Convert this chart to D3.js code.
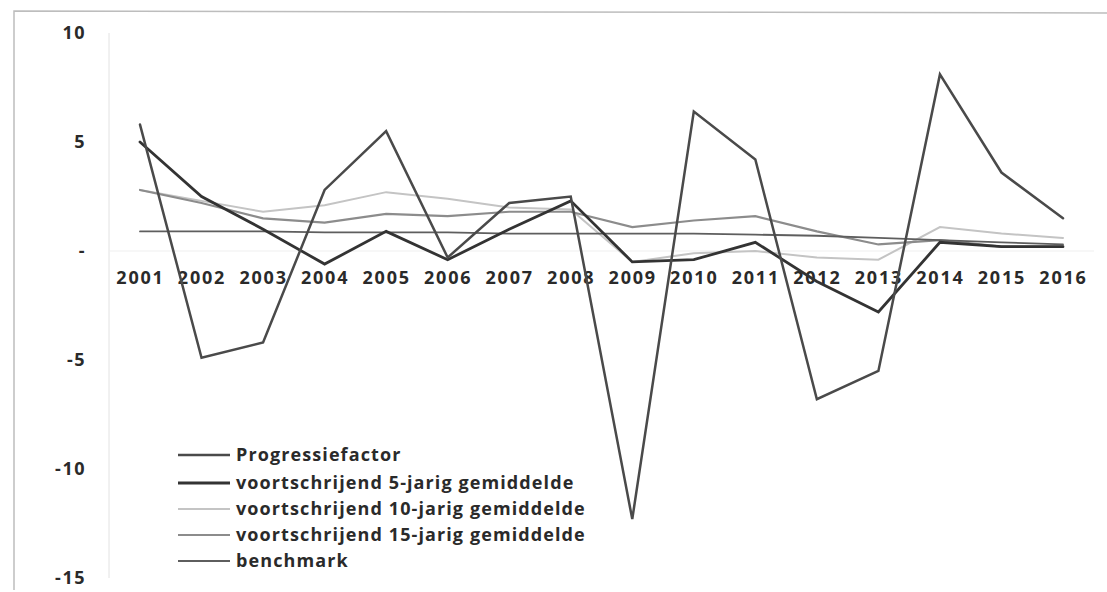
<!DOCTYPE html>
<html>
<head>
<meta charset="utf-8">
<script src="https://cdn.jsdelivr.net/npm/d3@7"></script>
<style>
  html, body { margin: 0; padding: 0; background: #fff; }
  svg { display: block; }
  text { font-family: "Open Sans", "DejaVu Sans", sans-serif; }
</style>
</head>
<body>
<svg id="chart" width="1107" height="592"></svg>
<script>
const years = ["2001","2002","2003","2004","2005","2006","2007","2008","2009","2010","2011","2012","2013","2014","2015","2016"];
const progressiefactor = [5.8, -4.9, -4.2, 2.8, 5.5, -0.3, 2.2, 2.5, -12.3, 6.4, 4.2, -6.8, -5.5, 8.1, 3.6, 1.5];
const gem5 = [5.0, 2.5, 1.0, -0.6, 0.9, -0.4, 1.0, 2.3, -0.5, -0.4, 0.4, -1.4, -2.8, 0.4, 0.2, 0.2];
const gem10 = [2.8, 2.3, 1.8, 2.1, 2.7, 2.4, 2.0, 1.9, -0.5, -0.1, 0.0, -0.3, -0.4, 1.1, 0.8, 0.6];
const gem15 = [2.8, 2.2, 1.5, 1.3, 1.7, 1.6, 1.8, 1.8, 1.1, 1.4, 1.6, 0.9, 0.3, 0.5, 0.2, 0.2];
const benchmark = [0.9, 0.9, 0.9, 0.85, 0.85, 0.85, 0.8, 0.8, 0.8, 0.8, 0.75, 0.7, 0.6, 0.5, 0.4, 0.3];
const yTicks = [-15, -10, -5, 0, 5, 10];
const seriesNames = ["Progressiefactor", "voortschrijend 5-jarig gemiddelde", "voortschrijend 10-jarig gemiddelde", "voortschrijend 15-jarig gemiddelde", "benchmark"];

const series = [
  { name: seriesNames[0], values: progressiefactor, color: "#4a4a4a", width: 2.5 },
  { name: seriesNames[1], values: gem5, color: "#333333", width: 2.8 },
  { name: seriesNames[2], values: gem10, color: "#c4c4c4", width: 2.0 },
  { name: seriesNames[3], values: gem15, color: "#8c8c8c", width: 2.2 },
  { name: seriesNames[4], values: benchmark, color: "#5e5e5e", width: 1.8 }
];

const svg = d3.select("#chart");

// outer frame (left & top)
svg.append("path")
  .attr("d", "M14,590 L14,11 L1107,13")
  .attr("fill", "none").attr("stroke", "#bdbdbd").attr("stroke-width", 1.5);

const x = d3.scalePoint().domain(years).range([140, 1063]);
const y = d3.scaleLinear().domain([-15, 10]).range([578, 33]);

// vertical axis line
svg.append("line")
  .attr("x1", 109).attr("x2", 109)
  .attr("y1", y(10)).attr("y2", y(-15))
  .attr("stroke", "#e2e2e2").attr("stroke-width", 1);

// horizontal zero axis (faint)
svg.append("line")
  .attr("x1", 109).attr("x2", 1094)
  .attr("y1", y(0)).attr("y2", y(0))
  .attr("stroke", "#efefef").attr("stroke-width", 1);

// y axis labels
const yAxis = d3.axisLeft(y).tickValues(yTicks)
  .tickFormat(d => d === 0 ? "-" : String(d).replace("\u2212", "-"))
  .tickSize(0).tickPadding(0);
const gy = svg.append("g").attr("transform", "translate(86,0)").call(yAxis);
gy.select(".domain").remove();
gy.selectAll("text")
  .attr("font-size", 18).attr("font-weight", 700).attr("fill", "#2a2a2a")
  .attr("letter-spacing", 1.5)
  .attr("font-family", "'Open Sans', sans-serif");

// x axis labels
const xAxis = d3.axisBottom(x).tickSize(0).tickPadding(0);
const gx = svg.append("g").attr("transform", "translate(0,271)").call(xAxis);
gx.select(".domain").remove();
gx.selectAll("text")
  .attr("font-size", 18).attr("font-weight", 700).attr("fill", "#2a2a2a")
  .attr("letter-spacing", 1.8)
  .attr("font-family", "'Open Sans', sans-serif");

// lines (draw lighter first, darker on top)
const line = d3.line().x((d, i) => x(years[i])).y(d => y(d));
const drawOrder = [2, 3, 4, 1, 0];
drawOrder.forEach(k => {
  const s = series[k];
  svg.append("path")
    .datum(s.values)
    .attr("d", line)
    .attr("fill", "none")
    .attr("stroke", s.color)
    .attr("stroke-width", s.width)
    .attr("stroke-linejoin", "miter")
    .attr("stroke-linecap", "round");
});

// legend
const legendY = [455, 483, 509, 535, 561];
const lg = svg.append("g");
series.forEach((s, i) => {
  lg.append("line")
    .attr("x1", 178).attr("x2", 230)
    .attr("y1", legendY[i]).attr("y2", legendY[i])
    .attr("stroke", s.color).attr("stroke-width", s.width);
  lg.append("text")
    .attr("x", 236).attr("y", legendY[i])
    .attr("dy", "0.35em")
    .attr("font-size", 18).attr("font-weight", 700).attr("fill", "#2a2a2a")
    .attr("letter-spacing", 1.1)
    .text(s.name);
});
</script>
</body>
</html>
